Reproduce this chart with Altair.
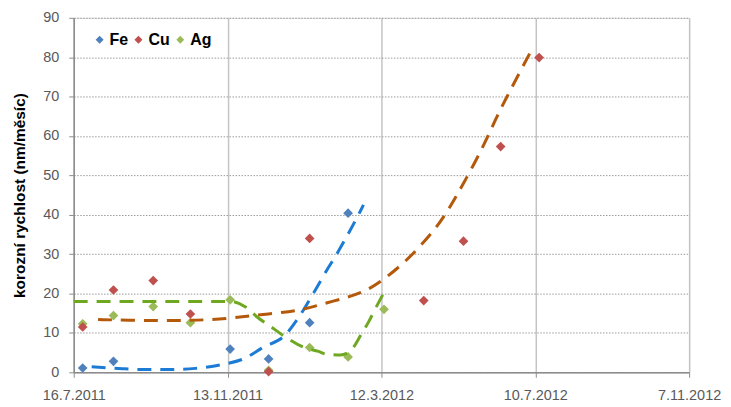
import altair as alt
import pandas as pd

series_names = ["Fe", "Cu", "Ag"]
point_colors = ["#4F81BD", "#C0504D", "#9BBB59"]

fe_dates = ["2011-07-23", "2011-08-16", "2011-11-15", "2011-12-15", "2012-01-16", "2012-02-15"]
fe_vals = [1.1, 2.8, 5.9, 3.4, 12.6, 40.4]

cu_dates = ["2011-07-23", "2011-08-16", "2011-09-16", "2011-10-15", "2011-12-15",
            "2012-01-16", "2012-04-14", "2012-05-15", "2012-06-13", "2012-07-13"]
cu_vals = [11.5, 20.9, 23.3, 14.8, 0.2, 34.0, 18.2, 33.3, 57.3, 79.9]

ag_dates = ["2011-07-23", "2011-08-16", "2011-09-16", "2011-10-15", "2011-11-15",
            "2011-12-15", "2012-01-16", "2012-02-15", "2012-03-14"]
ag_vals = [12.3, 14.4, 16.7, 12.6, 18.4, 0.5, 6.3, 3.9, 16.0]

# ---- trend lines ----
fe_trend_dates = ["2011-07-30", "2011-08-23", "2011-09-11", "2011-09-30", "2011-10-19",
                  "2011-11-09", "2011-11-26", "2011-12-10", "2011-12-28", "2012-01-08",
                  "2012-01-19", "2012-01-31", "2012-02-05", "2012-02-16", "2012-02-25",
                  "2012-02-27"]
fe_trend_vals = [1.4, 0.9, 0.7, 0.7, 1.0, 2.0, 3.5, 6.2, 9.5, 14.2, 20.1, 26.8, 29.4,
                 35.7, 41.2, 42.5]

cu_trend_dates = ["2011-08-04", "2011-08-28", "2011-09-21", "2011-10-14", "2011-11-06",
                  "2011-12-02", "2012-01-08", "2012-01-23", "2012-02-18", "2012-03-02",
                  "2012-03-14", "2012-03-29", "2012-04-11", "2012-04-24", "2012-05-03",
                  "2012-05-15", "2012-05-31", "2012-06-09", "2012-06-17", "2012-06-25",
                  "2012-07-08"]
cu_trend_vals = [13.4, 13.2, 13.1, 13.2, 13.4, 14.4, 15.6, 17.1, 19.3, 21.0, 23.6, 27.6,
                 31.9, 36.8, 41.1, 47.9, 57.6, 64.3, 69.4, 74.4, 82.4]

ag_trend_dates = ["2011-07-16", "2011-11-15", "2011-11-27", "2011-12-07", "2011-12-15",
                  "2011-12-28", "2012-01-11", "2012-01-23", "2012-01-29", "2012-02-09",
                  "2012-02-17", "2012-02-25", "2012-03-02", "2012-03-08", "2012-03-15"]
ag_trend_vals = [18.0, 18.0, 16.6, 13.8, 12.0, 9.0, 6.4, 5.3, 4.6, 4.4, 5.5, 9.5, 12.8,
                 16.6, 20.9]

x_ticks = ["2011-07-16", "2011-11-13", "2012-03-12", "2012-07-10", "2012-11-07"]
y_ticks = [0, 10, 20, 30, 40, 50, 60, 70, 80, 90]
y_title = "korozní rychlost (nm/měsíc)"

# ---- build tables ----
points = pd.concat([
    pd.DataFrame({"datum": pd.to_datetime(fe_dates), "hodnota": fe_vals, "kov": "Fe"}),
    pd.DataFrame({"datum": pd.to_datetime(cu_dates), "hodnota": cu_vals, "kov": "Cu"}),
    pd.DataFrame({"datum": pd.to_datetime(ag_dates), "hodnota": ag_vals, "kov": "Ag"}),
], ignore_index=True)

fe_tr = pd.DataFrame({"datum": pd.to_datetime(fe_trend_dates), "hodnota": fe_trend_vals})
cu_tr = pd.DataFrame({"datum": pd.to_datetime(cu_trend_dates), "hodnota": cu_trend_vals})
ag_tr = pd.DataFrame({"datum": pd.to_datetime(ag_trend_dates), "hodnota": ag_trend_vals})


def dt(s):
    y, m, d = (int(v) for v in s.split("-"))
    return alt.DateTime(year=y, month=m, date=d)


FONT = "Liberation Sans"

x_enc = alt.X(
    "datum:T",
    scale=alt.Scale(domain=[dt(x_ticks[0]), dt(x_ticks[-1])], nice=False),
    axis=alt.Axis(
        values=[dt(s) for s in x_ticks], format="%-d.%-m.%Y", title=None,
        grid=True, gridColor="#C4C4C4", gridWidth=1.5,
        domainColor="#8C8C8C", domainWidth=1.5, tickColor="#8C8C8C", tickSize=5,
        labelFont=FONT, labelFontSize=14.5, labelColor="#595959", labelPadding=11,
        labelFlush=False, labelOverlap=False, labelBound=False,
    ),
)
y_enc = alt.Y(
    "hodnota:Q",
    scale=alt.Scale(domain=[0, 90], nice=False),
    axis=alt.Axis(
        values=y_ticks, title=y_title,
        grid=True, gridColor="#9A9A9A", gridDash=[1.5, 1.5], gridWidth=1,
        domainColor="#8C8C8C", domainWidth=1.5, tickColor="#8C8C8C", tickSize=5,
        labelFont=FONT, labelFontSize=14.5, labelColor="#595959", labelPadding=10,
        titleFont=FONT, titleFontSize=15.5, titleFontWeight="bold", titleColor="#000000",
        titlePadding=15,
    ),
)

pts = alt.Chart(points).mark_point(shape="diamond", filled=True, size=95, opacity=1).encode(
    x=x_enc, y=y_enc,
    color=alt.Color(
        "kov:N",
        scale=alt.Scale(domain=series_names, range=point_colors),
        legend=alt.Legend(
            title=None, orient="none", legendX=18, legendY=14, direction="horizontal",
            columns=3, symbolType="diamond", symbolSize=64, symbolStrokeWidth=0,
            labelFont=FONT, labelFontSize=16, labelFontWeight="bold", labelColor="#000000",
            labelOffset=2, columnPadding=2, padding=0,
        ),
    ),
    order=alt.Order("kov:N"),
)

dash = [14, 9]
fe_line = alt.Chart(fe_tr).mark_line(color="#1C7CD5", strokeWidth=3, strokeDash=dash,
                                     interpolate="monotone").encode(x=x_enc, y=y_enc)
cu_line = alt.Chart(cu_tr).mark_line(color="#B4580A", strokeWidth=3, strokeDash=dash,
                                     interpolate="basis").encode(x=x_enc, y=y_enc)
ag_line = alt.Chart(ag_tr).mark_line(color="#6EA821", strokeWidth=3, strokeDash=dash,
                                     interpolate="monotone").encode(x=x_enc, y=y_enc)

chart = alt.layer(pts, fe_line, cu_line, ag_line).properties(
    width=618, height=356,
    padding={"left": 66, "top": 9, "right": 34, "bottom": 36},
    autosize=alt.AutoSizeParams(type="none"),
).configure_view(stroke=None).configure(background="#ffffff")

chart.save("out.html", embed_options={"renderer": "svg", "actions": False})
